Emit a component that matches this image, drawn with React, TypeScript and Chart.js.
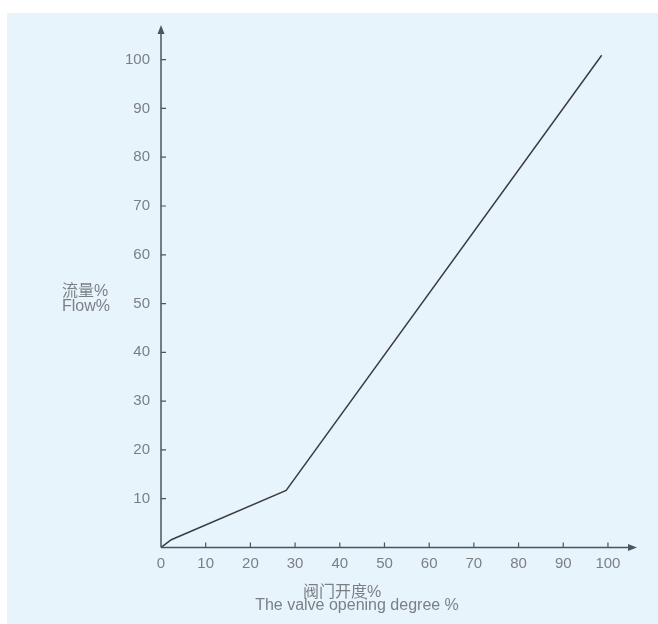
import React, { useEffect, useRef } from "react";
import { Chart, registerables } from "chart.js";

Chart.register(...registerables);

const openingPct = [0, 2.3, 28, 98.6];
const flowPct = [0, 1.6, 11.7, 100.9];
const xTickValues = [0, 10, 20, 30, 40, 50, 60, 70, 80, 90, 100];
const yTickValues = [10, 20, 30, 40, 50, 60, 70, 80, 90, 100];
const yTitleLines = ["流量%", "Flow%"];
const xTitleLines = ["阀门开度%", "The valve opening degree %"];

const FONT = '"Liberation Sans", "Noto Sans CJK SC", sans-serif';
const AXIS_COLOR = "#4a5560";
const TEXT_COLOR = "#7b7f84";

const axesPlugin = {
  id: "axesArrows",
  afterDraw(chart: any) {
    const { ctx, chartArea } = chart;
    const xs = chart.scales.x;
    const ys = chart.scales.y;
    const { left, right, top, bottom } = chartArea;
    ctx.save();
    ctx.strokeStyle = AXIS_COLOR;
    ctx.fillStyle = AXIS_COLOR;
    ctx.lineWidth = 1.5;
    // axes
    ctx.beginPath();
    ctx.moveTo(left, bottom);
    ctx.lineTo(right - 6, bottom);
    ctx.moveTo(left, bottom);
    ctx.lineTo(left, top + 6);
    ctx.stroke();
    // arrows
    ctx.beginPath();
    ctx.moveTo(right, bottom);
    ctx.lineTo(right - 9, bottom - 3.5);
    ctx.lineTo(right - 9, bottom + 3.5);
    ctx.closePath();
    ctx.fill();
    ctx.beginPath();
    ctx.moveTo(left, top);
    ctx.lineTo(left - 3.5, top + 9);
    ctx.lineTo(left + 3.5, top + 9);
    ctx.closePath();
    ctx.fill();
    // tick marks
    ctx.lineWidth = 1.2;
    ctx.beginPath();
    xTickValues.forEach((v) => {
      if (v === 0) return;
      const px = xs.getPixelForValue(v);
      ctx.moveTo(px, bottom);
      ctx.lineTo(px, bottom - 5);
    });
    yTickValues.forEach((v) => {
      const py = ys.getPixelForValue(v);
      ctx.moveTo(left, py);
      ctx.lineTo(left + 5, py);
    });
    ctx.stroke();
    // titles
    ctx.fillStyle = TEXT_COLOR;
    ctx.font = `16px ${FONT}`;
    ctx.textBaseline = "middle";
    ctx.textAlign = "left";
    ctx.fillText(yTitleLines[0], 62, 292);
    ctx.fillText(yTitleLines[1], 62, 307);
    ctx.textAlign = "center";
    ctx.fillText(xTitleLines[0], 342, 593);
    ctx.fillText(xTitleLines[1], 357, 606);
    ctx.restore();
  },
};

export default function App() {
  const ref = useRef<HTMLCanvasElement | null>(null);

  useEffect(() => {
    if (!ref.current) return;
    const chart = new Chart(ref.current, {
      type: "scatter",
      data: {
        datasets: [
          {
            data: openingPct.map((x, i) => ({ x, y: flowPct[i] })),
            showLine: true,
            borderColor: "#3d3d3d",
            borderWidth: 1.5,
            pointRadius: 0,
            pointHoverRadius: 0,
            tension: 0,
          },
        ],
      },
      options: {
        animation: false,
        responsive: false,
        maintainAspectRatio: false,
        layout: { padding: { top: 25, right: 21, left: 0, bottom: 0 } },
        plugins: {
          legend: { display: false },
          tooltip: { enabled: false },
        },
        scales: {
          x: {
            type: "linear",
            min: 0,
            max: 106.5,
            grid: { display: false, drawTicks: false },
            border: { display: false },
            afterBuildTicks: (scale: any) => {
              scale.ticks = xTickValues.map((v) => ({ value: v }));
            },
            afterFit: (scale: any) => {
              scale.height = 76.5;
            },
            ticks: {
              padding: 7,
              color: TEXT_COLOR,
              font: { family: FONT, size: 15 },
              maxRotation: 0,
              autoSkip: false,
            },
          },
          y: {
            type: "linear",
            min: 0,
            max: 107.1,
            grid: { display: false, drawTicks: false },
            border: { display: false },
            afterBuildTicks: (scale: any) => {
              scale.ticks = yTickValues.map((v) => ({ value: v }));
            },
            afterFit: (scale: any) => {
              scale.width = 161;
            },
            ticks: {
              padding: 11,
              color: TEXT_COLOR,
              font: { family: FONT, size: 15 },
              autoSkip: false,
            },
          },
        },
      },
      plugins: [axesPlugin],
    });
    return () => chart.destroy();
  }, []);

  return (
    <div
      style={{
        position: "fixed",
        left: 0,
        top: 0,
        width: 658,
        height: 624,
        background: "#ffffff",
      }}
    >
      <div
        style={{
          position: "absolute",
          left: 7,
          top: 13,
          right: 0,
          bottom: 0,
          background: "#e8f4fc",
        }}
      />
      <canvas
        ref={ref}
        width={658}
        height={624}
        style={{ position: "absolute", left: 0, top: 0, width: 658, height: 624 }}
      />
    </div>
  );
}
